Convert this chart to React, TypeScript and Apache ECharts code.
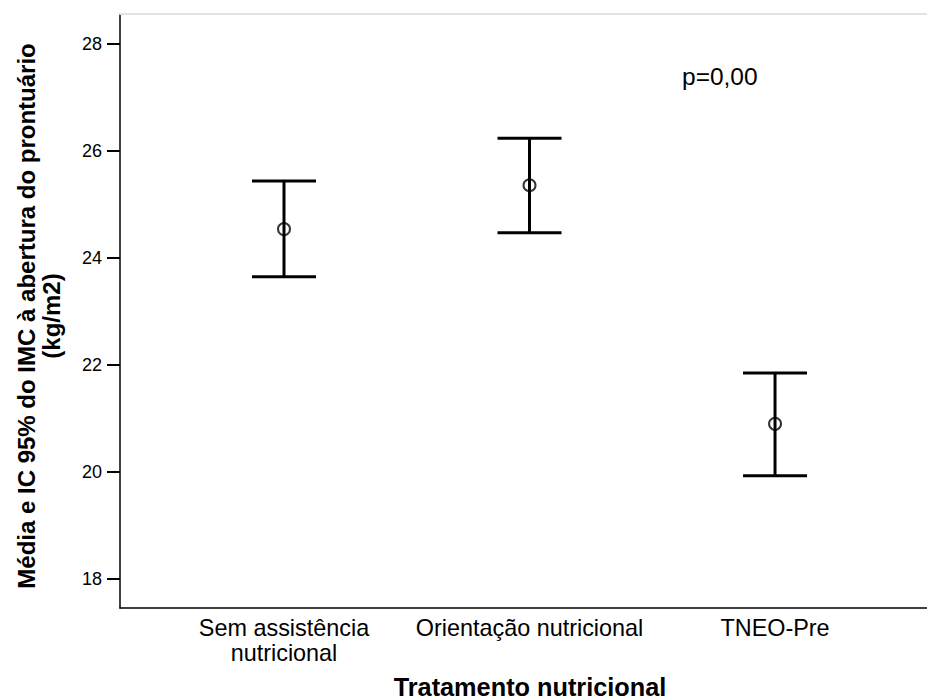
import React, { useEffect, useRef } from "react";
import * as echarts from "echarts";

const categories = ["Sem assistência\nnutricional", "Orientação nutricional", "TNEO-Pre"];
const means = [24.54, 25.36, 20.9];
const lower = [23.65, 24.47, 19.93];
const upper = [25.44, 26.24, 21.85];
const yTicks = [18, 20, 22, 24, 26, 28];
const pText = "p=0,00";
const xTitle = "Tratamento nutricional";
const yTitle = "Média e IC 95% do IMC à abertura do prontuário\n(kg/m2)";

const FONT = "Liberation Sans, Arial, Helvetica, sans-serif";

export default function App() {
  const ref = useRef<HTMLDivElement>(null);
  useEffect(() => {
    if (!ref.current) return;
    const chart = echarts.init(ref.current, undefined, { renderer: "svg" });
    const xMin = 0.332;
    const xMax = 3.619;
    chart.setOption({
      animation: false,
      backgroundColor: "#fff",
      grid: { left: 120, top: 14, right: 0, bottom: 92, containLabel: false, outerBoundsMode: "none" },
      xAxis: [
        {
          type: "value",
          min: xMin,
          max: xMax,
          splitLine: { show: false },
          axisTick: { show: false },
          axisLine: { show: true, onZero: false, lineStyle: { color: "#000", width: 1.5 } },
          axisLabel: {
            customValues: [1, 2, 3],
            formatter: (v: number) => categories[Math.round(v) - 1] ?? "",
            color: "#000",
            fontSize: 23.4,
            lineHeight: 25,
            fontFamily: FONT,
            margin: 7,
          },
          name: xTitle,
          nameLocation: "middle",
          nameGap: 66,
          nameTextStyle: {
            color: "#000",
            fontSize: 25.3,
            fontWeight: "bold",
            fontFamily: FONT,
            padding: [0, 0, 0, 13],
          },
        },
        {
          type: "value",
          position: "top",
          min: xMin,
          max: xMax,
          splitLine: { show: false },
          axisTick: { show: false },
          axisLabel: { show: false },
          axisLine: { show: true, onZero: false, lineStyle: { color: "#e2e2e2", width: 2 } },
        },
      ],
      yAxis: {
        type: "value",
        min: 17.458,
        max: 28.561,
        splitLine: { show: false },
        axisLine: { show: true, onZero: false, lineStyle: { color: "#000", width: 1.5 } },
        axisTick: {
          show: true,
          customValues: yTicks,
          length: 13,
          lineStyle: { color: "#000", width: 2 },
        },
        axisLabel: {
          customValues: yTicks,
          color: "#000",
          fontSize: 18,
          fontFamily: FONT,
          margin: 18,
        },
        name: yTitle,
        nameLocation: "middle",
        nameRotate: 90,
        nameGap: 56,
        nameTextStyle: {
          color: "#000",
          fontSize: 24,
          fontWeight: "bold",
          fontFamily: FONT,
          lineHeight: 25,
          align: "center",
          padding: [0, 10, 0, 0],
        },
      },
      series: [
        {
          type: "custom",
          xAxisIndex: 0,
          data: categories.map((_, i) => [i + 1, lower[i], upper[i]]),
          encode: { x: 0, y: [1, 2] },
          renderItem: (params: any, api: any) => {
            const x = api.value(0);
            const lo = api.coord([x, api.value(1)]);
            const hi = api.coord([x, api.value(2)]);
            const hw = 32;
            const style = { stroke: "#000", lineWidth: 3 };
            return {
              type: "group",
              children: [
                { type: "line", shape: { x1: hi[0], y1: hi[1], x2: lo[0], y2: lo[1] }, style },
                { type: "line", shape: { x1: hi[0] - hw, y1: hi[1], x2: hi[0] + hw, y2: hi[1] }, style },
                { type: "line", shape: { x1: lo[0] - hw, y1: lo[1], x2: lo[0] + hw, y2: lo[1] }, style },
              ],
            };
          },
          z: 2,
        },
        {
          type: "scatter",
          xAxisIndex: 0,
          data: means.map((m, i) => [i + 1, m]),
          symbol: "circle",
          symbolSize: 12,
          itemStyle: { color: "rgba(255,255,255,0)", borderColor: "#000", borderWidth: 2 },
          z: 3,
        },
      ],
      graphic: [
        {
          type: "text",
          x: 682,
          y: 76,
          style: {
            text: pText,
            fontSize: 24.5,
            fontFamily: FONT,
            fill: "#000",
            verticalAlign: "middle",
            align: "left",
          },
        },
      ],
    });
    return () => chart.dispose();
  }, []);
  return <div ref={ref} style={{ width: 927, height: 700, position: "absolute", left: 0, top: 0 }} />;
}
